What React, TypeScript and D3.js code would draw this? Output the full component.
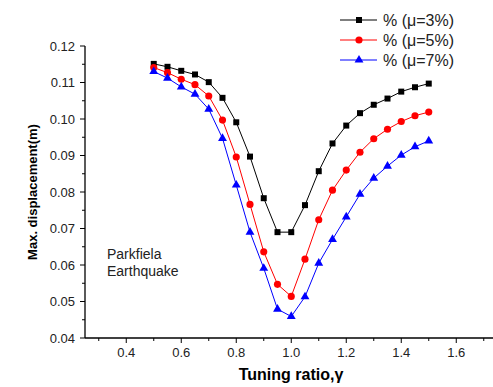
import React from 'react';
import * as d3 from 'd3';

// tuning ratio values (x)
const ratios = [0.5, 0.55, 0.6, 0.65, 0.7, 0.75, 0.8, 0.85, 0.9, 0.95, 1.0, 1.05, 1.1, 1.15, 1.2, 1.25, 1.3, 1.35, 1.4, 1.45, 1.5];

// max displacement (m) per mass ratio
const mu3 = [0.1151, 0.1143, 0.1132, 0.1122, 0.1101, 0.1058, 0.0991, 0.0897, 0.0783, 0.069, 0.069, 0.0764, 0.0857, 0.0933, 0.0982, 0.1016, 0.1039, 0.1056, 0.1075, 0.1087, 0.1097];
const mu5 = [0.1141, 0.1127, 0.1109, 0.1094, 0.1063, 0.0997, 0.0896, 0.0766, 0.0636, 0.0547, 0.0514, 0.0616, 0.0724, 0.0805, 0.086, 0.0909, 0.0946, 0.0972, 0.0993, 0.1009, 0.1019];
const mu7 = [0.113, 0.1112, 0.1088, 0.1068, 0.1027, 0.0947, 0.0819, 0.069, 0.0591, 0.0479, 0.0459, 0.0513, 0.0605, 0.067, 0.0732, 0.0794, 0.0838, 0.0871, 0.0901, 0.0924, 0.094];

const seriesNames = ['% (\u03bc=3%)', '% (\u03bc=5%)', '% (\u03bc=7%)'];
const xTicks = [0.4, 0.6, 0.8, 1.0, 1.2, 1.4, 1.6];
const xMinor = [0.3, 0.5, 0.7, 0.9, 1.1, 1.3, 1.5, 1.7];
const yTicks = [0.04, 0.05, 0.06, 0.07, 0.08, 0.09, 0.1, 0.11, 0.12];
const yMinor = [0.045, 0.055, 0.065, 0.075, 0.085, 0.095, 0.105, 0.115];

const W = 493;
const H = 387;
const font = 'Arial, "Liberation Sans", sans-serif';

const series = [
  { name: seriesNames[0], values: mu3, color: '#000000', shape: d3.symbolSquare, size: 36 },
  { name: seriesNames[1], values: mu5, color: '#ff0000', shape: d3.symbolCircle, size: 40 },
  { name: seriesNames[2], values: mu7, color: '#0000ff', shape: d3.symbolTriangle, size: 34 },
];

export default function App() {
  const x = d3.scaleLinear().domain([0.25, 1.75]).range([85, 497.5]);
  const y = d3.scaleLinear().domain([0.04, 0.12]).range([338, 46]);
  const x0 = 85;
  const y0 = 338;

  const line = d3.line<number>()
    .x((_, i) => x(ratios[i]))
    .y(d => y(d));

  return (
    <svg width={W} height={H} style={{ display: 'block', background: '#fff' }}>
      <style>{`body{margin:0}`}</style>

      {/* axes */}
      <line x1={x0} x2={x0} y1={y(0.12)} y2={y0} stroke="#000" strokeWidth={1.3} />
      <line x1={x0} x2={W} y1={y0} y2={y0} stroke="#000" strokeWidth={1.3} />

      {yTicks.map(t => (
        <g key={'yt' + t}>
          <line x1={x0 - 5} x2={x0} y1={y(t)} y2={y(t)} stroke="#000" />
          <text x={x0 - 10} y={y(t)} dy="0.35em" textAnchor="end" fontFamily={font} fontSize={13} fill="#222">
            {d3.format('.2f')(t)}
          </text>
        </g>
      ))}
      {yMinor.map(t => (
        <line key={'ym' + t} x1={x0 - 3} x2={x0} y1={y(t)} y2={y(t)} stroke="#000" />
      ))}
      {xTicks.map(t => (
        <g key={'xt' + t}>
          <line x1={x(t)} x2={x(t)} y1={y0} y2={y0 + 5} stroke="#000" />
          <text x={x(t)} y={y0 + 19} textAnchor="middle" fontFamily={font} fontSize={13} fill="#222">
            {d3.format('.1f')(t)}
          </text>
        </g>
      ))}
      {xMinor.map(t => (
        <line key={'xm' + t} x1={x(t)} x2={x(t)} y1={y0} y2={y0 + 3} stroke="#000" />
      ))}

      {/* axis titles */}
      <text x={291} y={380} textAnchor="middle" fontFamily={font} fontSize={16} fontWeight="bold">
        Tuning ratio,γ
      </text>
      <text transform={`translate(37,${(y(0.12) + y0) / 2}) rotate(-90)`} textAnchor="middle" fontFamily={font} fontSize={13} fontWeight="bold">
        Max. displacement(m)
      </text>

      <text x={107} y={259} fontFamily={font} fontSize={14} fill="#222">Parkfiela</text>
      <text x={107} y={276} fontFamily={font} fontSize={14} fill="#222">Earthquake</text>

      {/* series */}
      {series.map(s => (
        <g key={s.name}>
          <path d={line(s.values) ?? ''} fill="none" stroke={s.color} strokeWidth={1} />
          {s.values.map((v, i) => (
            <path key={i} transform={`translate(${x(ratios[i])},${y(v)})`} d={d3.symbol(s.shape, s.size)() ?? ''} fill={s.color} />
          ))}
        </g>
      ))}

      {/* legend */}
      {series.map((s, i) => (
        <g key={'lg' + i} transform={`translate(0,${20 + i * 20})`}>
          <line x1={340} x2={377} y1={0} y2={0} stroke={s.color} strokeWidth={1} />
          <path transform="translate(359,0)" d={d3.symbol(s.shape, s.size)() ?? ''} fill={s.color} />
          <text x={383} y={0} dy="0.35em" fontFamily={font} fontSize={16} fill="#222">{s.name}</text>
        </g>
      ))}
    </svg>
  );
}
